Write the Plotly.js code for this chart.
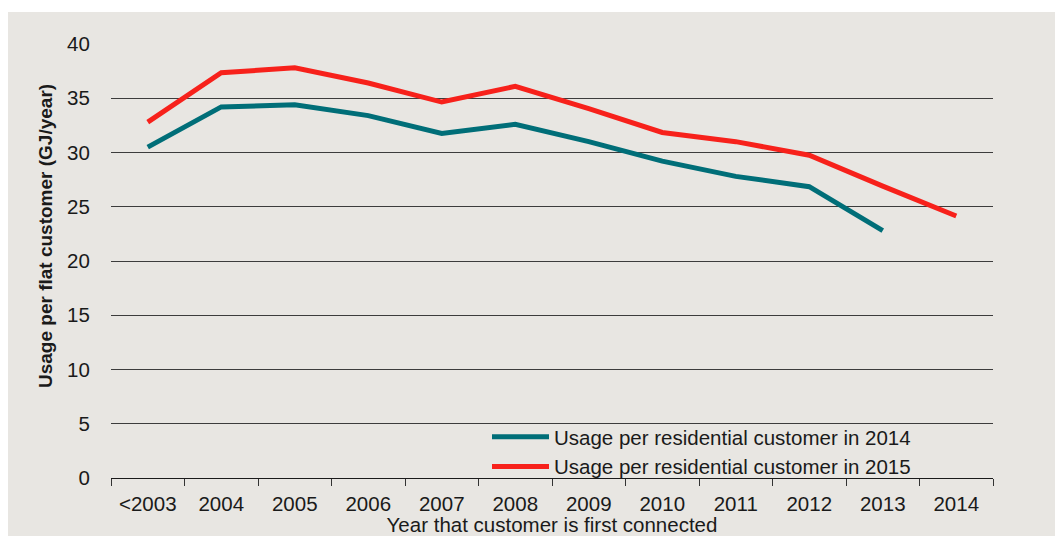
<!DOCTYPE html>
<html>
<head>
<meta charset="utf-8">
<script src="https://cdn.plot.ly/plotly-3.0.1.min.js"></script>
<style>html,body{margin:0;padding:0;background:#fff;}#chart{width:1055px;height:536px;}</style>
</head>
<body>
<div id="chart"></div>
<script>
const categories = ["<2003","2004","2005","2006","2007","2008","2009","2010","2011","2012","2013","2014"];
const usage2014 = [30.5, 34.2, 34.4, 33.4, 31.75, 32.6, 31.0, 29.2, 27.8, 26.85, 22.8, null];
const usage2015 = [32.8, 37.35, 37.8, 36.4, 34.65, 36.1, 34.05, 31.85, 31.0, 29.75, 26.9, 24.15];
const seriesNames = ["Usage per residential customer in 2014", "Usage per residential customer in 2015"];
const yTicks = [0,5,10,15,20,25,30,35,40];

const BG = "#e8e6e2";
const W = 1055, H = 536;
const m = {l:111, r:62, t:44, b:58};
const pw = W - m.l - m.r, ph = H - m.t - m.b;
const px = x => (x - m.l) / pw;
const py = y => (H - m.b - y) / ph;

const traces = [
  {x: categories, y: usage2014, name: seriesNames[0], type: "scatter", mode: "lines",
   line: {color: "#006e78", width: 5}, connectgaps: false},
  {x: categories, y: usage2015, name: seriesNames[1], type: "scatter", mode: "lines",
   line: {color: "#f7211b", width: 5}}
];

const layout = {
  width: W, height: H,
  margin: m,
  paper_bgcolor: BG,
  plot_bgcolor: BG,
  font: {family: "Liberation Sans, Arial, sans-serif", size: 20.5, color: "#1a1a1a"},
  showlegend: true,
  legend: {
    x: px(487), y: py(417), xanchor: "left", yanchor: "top",
    bgcolor: "rgba(0,0,0,0)", borderwidth: 0,
    font: {family: "Liberation Sans, Arial, sans-serif", size: 20.5, color: "#1a1a1a"},
    itemwidth: 57, tracegroupgap: 0
  },
  xaxis: {
    type: "category",
    range: [-0.5, 11.5],
    tickson: "boundaries",
    ticks: "outside", ticklen: 7, tickcolor: "#333", tickwidth: 1,
    showline: true, linecolor: "#1a1a1a", linewidth: 1,
    showgrid: false, zeroline: false,
    tickfont: {size: 20.5},
    ticklabelstandoff: 7,
    title: {text: "Year that customer is first connected", standoff: 10,
            font: {family: "Liberation Sans, Arial, sans-serif", size: 20.5}}
  },
  yaxis: {
    range: [0, 40],
    tickvals: yTicks,
    ticks: "outside", ticklen: 16, tickcolor: "rgba(0,0,0,0)",
    showgrid: true, gridcolor: "#3c3c3c", gridwidth: 1,
    zeroline: false, showline: false,
    tickfont: {size: 20.5}
  },
  shapes: [
    {type: "rect", xref: "paper", yref: "paper", x0: px(0), x1: px(W), y0: py(0), y1: py(12),
     fillcolor: "#ffffff", line: {width: 0}, layer: "below"},
    {type: "rect", xref: "paper", yref: "paper", x0: px(0), x1: px(8), y0: py(0), y1: py(H),
     fillcolor: "#ffffff", line: {width: 0}, layer: "below"}
  ],
  annotations: [
    {text: "<b>Usage per flat customer (GJ/year)</b>", textangle: -90, showarrow: false,
     xref: "paper", yref: "paper", x: px(45), y: py(236), xanchor: "center", yanchor: "middle",
     font: {size: 19, color: "#1a1a1a"}}
  ]
};

Plotly.newPlot("chart", traces, layout, {displayModeBar: false, staticPlot: true});
</script>
</body>
</html>
